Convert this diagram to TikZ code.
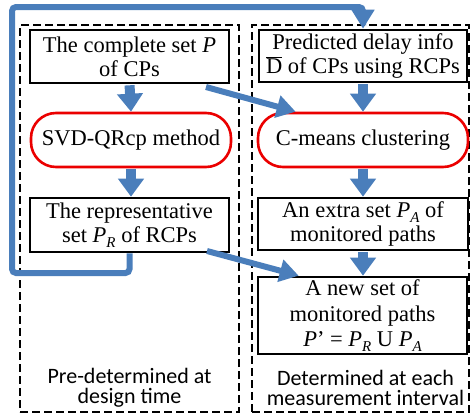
\documentclass[tikz,border=0pt]{standalone}
\usepackage{fontspec}
\setmainfont{Liberation Serif}
\newfontfamily\labfont{Carlito}
\usetikzlibrary{arrows.meta}
\definecolor{arrowblue}{RGB}{74,126,187}
\definecolor{boxred}{RGB}{235,0,0}
\newcommand\mysub[1]{\raisebox{-0.45ex}{\fontsize{15}{15}\selectfont\itshape #1}}
\begin{document}
\begin{tikzpicture}[x=1pt,y=-1pt,
  font=\fontsize{22.5}{24}\selectfont,
  box/.style={draw=black, line width=2.6pt, fill=white, align=center, inner sep=0pt},
  rbox/.style={draw=boxred, line width=2.6pt, fill=white, rounded corners=25pt, align=center, inner sep=0pt},
  region/.style={draw=black, line width=2.6pt, dash pattern=on 8pt off 4pt, inner sep=0pt},
  lab/.style={font=\labfont\fontsize{22}{20}\selectfont, align=center, inner sep=0pt},
  flow/.style={draw=arrowblue, line width=10pt, shorten <=1pt, -{Triangle[width=25pt,length=18pt]}},
  link/.style={draw=arrowblue, line width=6pt, -{Triangle[width=22pt,length=19pt]}}
]
\useasboundingbox (0,0) rectangle (471,418);

% regions
\node[region, minimum width=219pt, minimum height=387pt] (leftreg) at (129.5,218.5) {};
\node[region, minimum width=217pt, minimum height=387pt] (rightreg) at (360.5,218.5) {};
\node[lab] (leftlab) at (129.5,388) {Pre-determined at\\design time};
\node[lab] (rightlab) at (365.5,388) {Determined at each\\measurement interval};

% left column
\node[box, minimum width=199pt, minimum height=53pt] (complete) at (129.5,56.5)
  {The complete set \textit{P}\\of CPs};
\node[rbox, minimum width=200pt, minimum height=54pt] (svd) at (131,140)
  {SVD-QRcp method};
\node[box, minimum width=199pt, minimum height=54pt] (rep) at (129.5,225)
  {The representative\\set \textit{P}\mysub{R} of RCPs};

% right column
\node[box, minimum width=208pt, minimum height=52pt] (pred) at (363,56)
  {Predicted delay info\\$\overline{\hbox{D}}$ of CPs using RCPs};
\node[rbox, minimum width=210pt, minimum height=54pt] (cmeans) at (363,140)
  {C-means clustering};
\node[box, minimum width=210pt, minimum height=52pt] (extra) at (363,224)
  {An extra set \textit{P}\mysub{A} of\\monitored paths};
\node[box, minimum width=209pt, minimum height=77pt, font=\fontsize{22.5}{25.5}\selectfont] (new) at (362.5,315.5)
  {A new set of\\monitored paths\\\textit{P}’ = \textit{P}\mysub{R} U \textit{P}\mysub{A}};

% vertical flow arrows
\draw[flow] (complete.south) -- (svd.north);
\draw[flow] (svd.south) -- (rep.north -| svd.south);
\draw[flow] (pred.south) -- (cmeans.north);
\draw[flow] (cmeans.south) -- (extra.north);
\draw[flow] (extra.south) -- (new.north -| extra.south);

% diagonal links
\coordinate (d1s) at (206,87);
\coordinate (d2s) at (207,251);
\draw[link] (d1s) -- ([xshift=39pt]cmeans.north west);
\draw[link] (d2s) -- ([xshift=42pt]new.north west);

% feedback loop
\coordinate (loopB) at (12,273);
\coordinate (loopC) at (12,7);
\draw[link, rounded corners=4pt] (rep.south) -- (rep.south |- loopB) -- (loopB) -- (loopC)
  -- (loopC -| pred.north) -- (pred.north);
\end{tikzpicture}
\end{document}
